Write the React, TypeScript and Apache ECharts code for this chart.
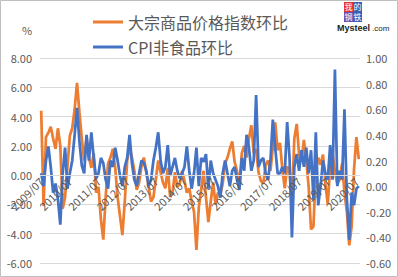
import React, { useEffect, useRef } from "react";
import * as echarts from "echarts";

const startYear = 2009;
const startMonth = 7;
const commodityMoM: number[] = [
  4.4, -2.1, 2.6, 2.9, 3.3, 2.5, 1.8, 3.2, 2.0, -2.3,
  -1.5, 0.6, 2.7, 3.2, 4.5, 6.3, 4.3, 2.5, 1.0, 2.6,
  1.2, 0.5, 1.5, -1.2, -0.8, -3.0, -4.4, -1.5, 0.8, 1.2,
  1.8, 0.5, -1.5, -2.8, -4.1, -1.8, 1.0, 1.9, 1.2, 0.3,
  -1.0, -0.5, 0.6, 1.2, 0.2, -0.8, -1.8, -1.5, -0.3, 1.0,
  0.2, -0.5, -0.9, 0.5, -1.5, -1.2, 0.2, -0.8, -0.6, 0.3,
  -0.4, -1.2, -0.9, -1.8, -2.5, -5.1, -2.2, -1.0, 0.3, -1.5,
  -3.2, -1.8, -0.5, -2.0, -1.2, -1.3, -0.6, 0.8, 1.2, 1.8,
  2.3, 0.9, 0.3, -0.8, 1.5, 2.0, 1.2, 2.5, 3.4, 1.5,
  1.8, 0.2, -0.4, -0.6, 0.7, 1.0, 0.3, 1.9, 3.6, 1.7,
  2.2, 0.4, -0.9, 0.6, 0.2, -1.8, 2.5, 3.5, 1.4, 0.9,
  2.4, 1.0, -0.8, -3.7, -3.5, 0.3, 1.2, 0.7, 1.4, -0.6,
  -2.0, 0.6, 1.5, 0.2, -0.6, -0.3, 0.8, -1.2, -2.5, -4.8,
  -3.5, 0.4, 2.6, 1.1,
];
const cpiNonFoodMoM: number[] = [
  0.1, 0.0, 0.2, 0.31, 0.15, -0.05, 0.02, -0.1, -0.3, 0.1,
  0.3, -0.02, 0.1, 0.2, 0.4, 0.61, 0.35, 0.16, 0.1, 0.4,
  0.2, 0.42, 0.22, 0.06, 0.1, 0.22, 0.18, 0.05, -0.02, 0.2,
  0.15, 0.3, 0.2, 0.08, 0.0, 0.15, 0.22, 0.4, 0.18, 0.05,
  0.0, 0.1, 0.2, 0.18, 0.12, 0.0, 0.05, 0.2, 0.3, 0.42,
  0.2, 0.1, 0.15, 0.32, 0.08, 0.15, 0.22, 0.12, 0.06, 0.1,
  0.15, 0.31, 0.12, -0.02, 0.1, 0.3, 0.0, 0.22, 0.19, 0.25,
  -0.02, 0.2, 0.1, 0.05, 0.0, -0.09, 0.1, 0.2, 0.1, 0.0,
  0.12, 0.15, 0.05, -0.03, 0.22, 0.12, 0.4, 0.3, 0.12, 0.2,
  0.71, 0.15, 0.2, 0.22, 0.1, 0.05, 0.2, 0.52, 0.3, 0.1,
  0.1, 0.15, 0.1, 0.5, 0.22, -0.4, 0.15, 0.25, 0.12, 0.28,
  0.15, 0.3, 0.1, 0.28, -0.1, 0.42, -0.15, 0.0, 0.2, 0.1,
  0.05, 0.32, 0.05, 0.91, 0.0, 0.12, 0.05, 0.6, -0.1, -0.42,
  -0.05, -0.15, -0.02, 0.0,
];
const seriesNames: string[] = ["大宗商品价格指数环比", "CPI非食品环比"];
const leftMin = -6;
const leftMax = 8;

const categories: string[] = commodityMoM.map((_, i) => {
  const m0 = startMonth - 1 + i;
  const y = startYear + Math.floor(m0 / 12);
  const m = (m0 % 12) + 1;
  return `${y}/${m < 10 ? "0" + m : m}`;
});

export default function App() {
  const ref = useRef<HTMLDivElement>(null);
  useEffect(() => {
    document.body.style.margin = "0";
    if (!ref.current) return;
    const chart = echarts.init(ref.current, null, { renderer: "svg" });
    const font = "'Noto Sans CJK SC', 'Noto Sans', sans-serif";
    const gray = "#595959";
    const gridTop = 58;
    const gridBottom = 14;
    const plotH = 277 - gridTop - gridBottom;
    const zeroOffset = -(plotH * (0 - leftMin)) / (leftMax - leftMin);
    chart.setOption({
      animation: false,
      backgroundColor: "#ffffff",
      textStyle: { fontFamily: font },
      grid: { left: 40, right: 38, top: gridTop, bottom: gridBottom, containLabel: false },
      legend: {
        orient: "vertical",
        left: 88,
        top: 9,
        itemWidth: 30,
        itemHeight: 3,
        itemGap: 9,
        icon: "rect",
        textStyle: { fontSize: 16, color: gray, fontFamily: font, lineHeight: 16 },
        data: seriesNames,
      },
      xAxis: {
        type: "category",
        data: categories,
        boundaryGap: true,
        position: "bottom",
        offset: zeroOffset,
        axisLine: { show: true, onZero: false, lineStyle: { color: "#d9d9d9" } },
        axisTick: { show: false },
        axisLabel: {
          interval: (idx: number) => idx % 12 === 0,
          rotate: 45,
          fontSize: 11,
          color: gray,
          margin: 4,
        },
        splitLine: { show: false },
        z: 5,
      },
      yAxis: [
        {
          type: "value",
          min: leftMin,
          max: leftMax,
          interval: 2,
          axisLine: { show: false },
          axisTick: { show: false },
          axisLabel: { fontSize: 11, color: gray, formatter: (v: number) => v.toFixed(2), margin: 8 },
          splitLine: { show: true, lineStyle: { color: "#d9d9d9", width: 1 } },
        },
        {
          type: "value",
          min: -0.6,
          max: 1.0,
          interval: 0.2,
          axisLine: { show: false },
          axisTick: { show: false },
          axisLabel: { fontSize: 11, color: gray, formatter: (v: number) => v.toFixed(2), margin: 6 },
          splitLine: { show: false },
        },
      ],
      series: [
        {
          name: seriesNames[0],
          type: "line",
          yAxisIndex: 0,
          data: commodityMoM,
          symbol: "none",
          lineStyle: { color: "#ED7D31", width: 2.75 },
          itemStyle: { color: "#ED7D31" },
          z: 2,
        },
        {
          name: seriesNames[1],
          type: "line",
          yAxisIndex: 1,
          data: cpiNonFoodMoM,
          symbol: "none",
          lineStyle: { color: "#4472C4", width: 2.75 },
          itemStyle: { color: "#4472C4" },
          z: 3,
        },
      ],
      graphic: [
        {
          type: "rect",
          shape: { x: 0.5, y: 0.5, width: 397, height: 276 },
          style: { fill: "none", stroke: "#bfbfbf", lineWidth: 1 },
          silent: true,
        },
        {
          type: "text",
          left: 22,
          top: 24,
          style: { text: "%", fontSize: 11, fill: gray, fontFamily: font },
        },
        { type: "rect", shape: { x: 344, y: 2, width: 9, height: 10 }, style: { fill: "#e8322e" } },
        { type: "rect", shape: { x: 353, y: 2, width: 9, height: 10 }, style: { fill: "#3b5db5" } },
        { type: "rect", shape: { x: 344, y: 12, width: 9, height: 10 }, style: { fill: "#6b4fb0" } },
        { type: "rect", shape: { x: 353, y: 12, width: 9, height: 10 }, style: { fill: "#3b5db5" } },
        { type: "text", x: 344.5, y: 2.5, style: { text: "我", fontSize: 8, fill: "#fff", fontFamily: font } },
        { type: "text", x: 353.5, y: 2.5, style: { text: "的", fontSize: 8, fill: "#fff", fontFamily: font } },
        { type: "text", x: 344.5, y: 12.5, style: { text: "钢", fontSize: 8, fill: "#fff", fontFamily: font } },
        { type: "text", x: 353.5, y: 12.5, style: { text: "铁", fontSize: 8, fill: "#fff", fontFamily: font } },
        {
          type: "text",
          x: 337,
          y: 23,
          style: { text: "Mysteel", fontSize: 9, fontWeight: "bold", fill: "#222", fontFamily: "Arial, 'Liberation Sans', sans-serif" },
        },
        {
          type: "text",
          x: 372,
          y: 24,
          style: { text: ".com", fontSize: 8, fill: "#222", fontFamily: "Arial, 'Liberation Sans', sans-serif" },
        },
      ],
    });
    return () => chart.dispose();
  }, []);
  return <div ref={ref} style={{ width: 398, height: 277 }} />;
}
